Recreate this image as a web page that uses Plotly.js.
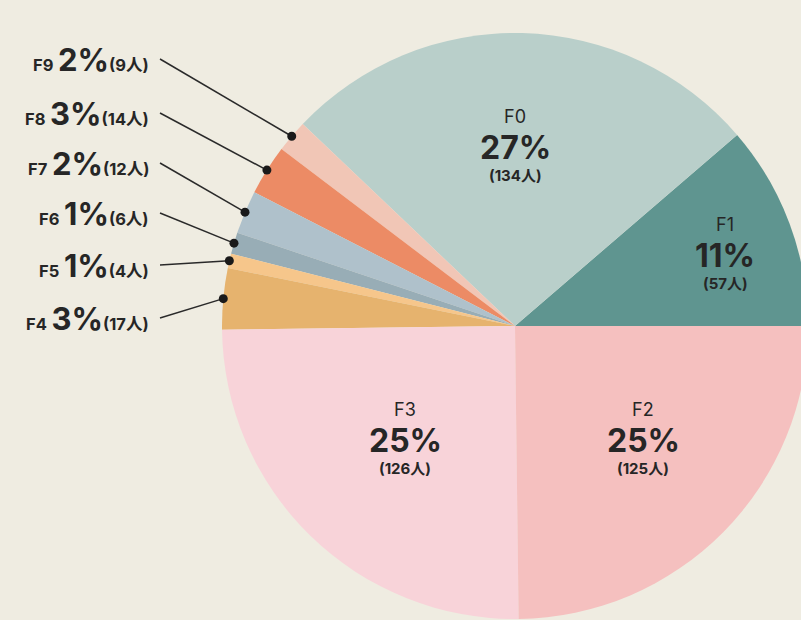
<!DOCTYPE html>
<html>
<head>
<meta charset="utf-8">
<script src="https://cdn.plot.ly/plotly-3.0.1.min.js"></script>
<style>
html,body{margin:0;padding:0;background:#efece1;overflow:hidden;}
#chart{width:820px;height:620px;}
</style>
</head>
<body>
<div id="chart"></div>
<script>
// ---- data (counter-clockwise from 3 o'clock) ----
const categories = ["F1","F0","F9","F8","F7","F6","F5","F4","F3","F2"];
const counts     = [57, 134, 9, 14, 12, 6, 4, 17, 126, 125];
const colors     = ["#5f9590","#b9cfca","#f1c6b6","#ec8b65","#afc1cb","#98adb6","#f6c68b","#e6b36e","#f8d3d9","#f5c0bf"];
const insideCats  = ["F0","F1","F2","F3"];
const outsideCats = ["F9","F8","F7","F6","F5","F4"];

// ---- layout geometry (pixels) ----
const W = 820, H = 620;
const cx = 515, cy = 326, R = 293;
const insidePos = {F0:[515,147], F1:[725,255], F2:[643,440], F3:[405,440]};
const outsideY  = {F9:59, F8:113, F7:163, F6:213, F5:265, F4:318};
const labelRight = 151, lineStartX = 160;

const total = counts.reduce((a,b)=>a+b,0);
const pct = c => Math.round(counts[categories.indexOf(c)]/total*100) + "%";
const cnt = c => counts[categories.indexOf(c)];

// mid angles (degrees, CCW from 3 o'clock)
let cum = 0; const mid = {};
categories.forEach((c,i)=>{ const span = counts[i]/total*360; mid[c] = cum + span/2; cum += span; });

const FONT = "Inter, 'Noto Sans CJK JP', 'Noto Sans', sans-serif";
const TXT = "#262626";

const pie = {
  type:"pie", labels:categories, values:counts, sort:false,
  direction:"counterclockwise", rotation:90 - counts[0]/total*360,
  marker:{colors:colors, line:{width:0}},
  textinfo:"none", hoverinfo:"none",
  domain:{x:[(cx-R)/W,(cx+R)/W], y:[(H-cy-R)/H,(H-cy+R)/H]},
  showlegend:false
};

// invisible scatter to establish pixel-based axes
const traces = [pie, {type:"scatter", mode:"none", x:[0,W], y:[0,H], hoverinfo:"skip", showlegend:false}];
const annotations = [];
const shapes = [];

outsideCats.forEach(c=>{
  const a = mid[c]*Math.PI/180;
  const dx = cx + R*Math.cos(a), dy = cy - R*Math.sin(a);
  const ly = outsideY[c];
  shapes.push({type:"line", xref:"x", yref:"y", x0:lineStartX, y0:ly, x1:dx, y1:dy,
    line:{color:"#2a2a2a", width:1.5}, layer:"above"});
  const r = 4.5;
  shapes.push({type:"circle", xref:"x", yref:"y", x0:dx-r, x1:dx+r, y0:dy-r, y1:dy+r,
    fillcolor:"#1a1a1a", line:{width:0}, layer:"above"});
  annotations.push({
    xref:"x", yref:"y", x:labelRight, y:ly, xanchor:"right", yanchor:"middle",
    showarrow:false,
    text:"<b>"+c+"</b> <span style='font-size:31px'><b>"+pct(c)+"</b></span><b>("+cnt(c)+"人)</b>",
    font:{family:FONT, size:16.5, color:TXT}
  });
});

insideCats.forEach(c=>{
  const [x,y] = insidePos[c];
  annotations.push({xref:"x",yref:"y",x:x,y:y-31,showarrow:false,text:c,
    font:{family:FONT,size:18,color:TXT}});
  annotations.push({xref:"x",yref:"y",x:x,y:y,showarrow:false,text:"<b>"+pct(c)+"</b>",
    font:{family:FONT,size:32,color:TXT}});
  annotations.push({xref:"x",yref:"y",x:x,y:y+28,showarrow:false,text:"<b>("+cnt(c)+"人)</b>",
    font:{family:FONT,size:15,color:TXT}});
});

const layout = {
  width:W, height:H, autosize:false,
  margin:{l:0,r:0,t:0,b:0},
  paper_bgcolor:"#efece1", plot_bgcolor:"rgba(0,0,0,0)",
  xaxis:{range:[0,W], visible:false, fixedrange:true, domain:[0,1]},
  yaxis:{range:[H,0], visible:false, fixedrange:true, domain:[0,1]},
  annotations:annotations,
  shapes:shapes,
  showlegend:false
};

Plotly.newPlot("chart", traces, layout, {displayModeBar:false, staticPlot:true});
</script>
</body>
</html>
